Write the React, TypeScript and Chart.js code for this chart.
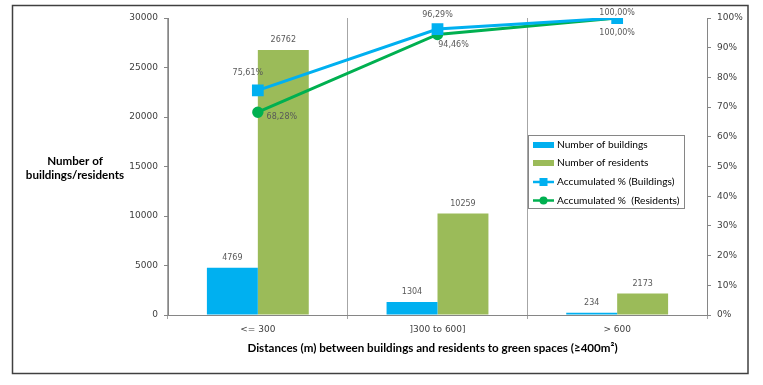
import React, { useEffect, useRef } from "react";
import { Chart, registerables } from "chart.js";

Chart.register(...registerables);

const categories = ["<= 300", "]300 to 600]", "> 600"];
const buildings = [4769, 1304, 234];
const residents = [26762, 10259, 2173];
const accBuildings = [75.61, 96.29, 100.0];
const accResidents = [68.28, 94.46, 100.0];
const leftTicks = [0, 5000, 10000, 15000, 20000, 25000, 30000];
const rightTicks = [0, 10, 20, 30, 40, 50, 60, 70, 80, 90, 100];

const BLUE = "#00B0F0";
const OLIVE = "#9BBB59";
const GREEN = "#00B050";
const AXIS = "#868686";
const TICK_FONT = "DejaVu Sans";
const TITLE_FONT = "Lato";

// label offsets (style, not data)
const lineLabelOffsets: Record<number, [number, number][]> = {
  2: [[-10, -18], [0, -14], [0, -5]],
  3: [[24, 5], [16, 10], [0, 15]],
};

const fmtPct = (v: number) => v.toFixed(2).replace(".", ",") + "%";

const decorPlugin = {
  id: "decor",
  beforeDraw(chart: any) {
    const ctx = chart.ctx;
    ctx.save();
    ctx.fillStyle = "#ffffff";
    ctx.fillRect(0, 0, chart.width, chart.height);
    ctx.restore();
  },
  afterDatasetsDraw(chart: any) {
    const ctx = chart.ctx;
    const ca = chart.chartArea;
    ctx.save();
    // data labels
    chart.data.datasets.forEach((ds: any, di: number) => {
      const meta = chart.getDatasetMeta(di);
      meta.data.forEach((el: any, i: number) => {
        const v = ds.data[i];
        ctx.font = `8px "${TICK_FONT}"`;
        ctx.fillStyle = "#595959";
        ctx.textAlign = "center";
        ctx.textBaseline = "middle";
        if (ds.type === "bar") {
          ctx.fillText(String(v), el.x, el.y - 10);
        } else {
          const off = lineLabelOffsets[di][i];
          ctx.fillText(fmtPct(v), el.x + off[0], el.y + off[1]);
        }
      });
    });

    // legend
    const lx = 528.5, ly = 135.5, lw = 156, lh = 73;
    ctx.fillStyle = "#ffffff";
    ctx.fillRect(lx, ly, lw, lh);
    ctx.strokeStyle = AXIS;
    ctx.lineWidth = 1;
    ctx.strokeRect(lx, ly, lw, lh);
    const items = [
      { text: "Number of buildings", kind: "bar", color: BLUE, y: 145 },
      { text: "Number of residents", kind: "bar", color: OLIVE, y: 163 },
      { text: "Accumulated % (Buildings)", kind: "rect", color: BLUE, y: 182 },
      { text: "Accumulated %  (Residents)", kind: "circle", color: GREEN, y: 200.5 },
    ];
    items.forEach((it) => {
      const sx = 533, ex = 554;
      if (it.kind === "bar") {
        ctx.fillStyle = it.color;
        ctx.fillRect(sx, it.y - 3, ex - sx, 6);
      } else {
        ctx.strokeStyle = it.color;
        ctx.lineWidth = 2.5;
        ctx.beginPath();
        ctx.moveTo(sx, it.y);
        ctx.lineTo(ex, it.y);
        ctx.stroke();
        ctx.fillStyle = it.color;
        const cx = (sx + ex) / 2;
        if (it.kind === "rect") {
          ctx.fillRect(cx - 4, it.y - 4, 8, 8);
        } else {
          ctx.beginPath();
          ctx.arc(cx, it.y, 4, 0, Math.PI * 2);
          ctx.fill();
        }
      }
      ctx.fillStyle = "#000000";
      ctx.font = `10.2px "${TITLE_FONT}"`;
      ctx.textAlign = "left";
      ctx.textBaseline = "middle";
      ctx.fillText(it.text, 557, it.y);
    });

    // axis titles
    ctx.fillStyle = "#000000";
    ctx.font = `bold 11.6px "${TITLE_FONT}"`;
    ctx.textAlign = "center";
    ctx.textBaseline = "middle";
    ctx.fillText("Number of", 75, 161);
    ctx.fillText("buildings/residents", 75, 175);
    ctx.fillText(
      "Distances (m) between buildings and residents to green spaces (\u2265400m\u00B2)",
      (ca.left + ca.right) / 2 - 5,
      348
    );

    // outer border
    ctx.strokeStyle = "#404040";
    ctx.lineWidth = 1.5;
    ctx.strokeRect(12.5, 5.5, 735.5, 368);
    ctx.restore();
  },
};

export default function App() {
  const ref = useRef<HTMLCanvasElement | null>(null);
  useEffect(() => {
    if (!ref.current) return;
    const chart = new Chart(ref.current, {
      type: "bar",
      data: {
        labels: categories,
        datasets: [
          {
            type: "bar",
            label: "Number of buildings",
            data: buildings,
            backgroundColor: BLUE,
            yAxisID: "y",
            order: 2,
            barPercentage: 1,
            categoryPercentage: 0.567,
          },
          {
            type: "bar",
            label: "Number of residents",
            data: residents,
            backgroundColor: OLIVE,
            yAxisID: "y",
            order: 2,
            barPercentage: 1,
            categoryPercentage: 0.567,
          },
          {
            type: "line",
            label: "Accumulated % (Buildings)",
            data: accBuildings,
            borderColor: BLUE,
            backgroundColor: BLUE,
            borderWidth: 3,
            pointStyle: "rect",
            pointRadius: 6.2,
            yAxisID: "y1",
            order: 0,
          },
          {
            type: "line",
            label: "Accumulated %  (Residents)",
            data: accResidents,
            borderColor: GREEN,
            backgroundColor: GREEN,
            borderWidth: 3,
            pointStyle: "circle",
            pointRadius: 4.2,
            yAxisID: "y1",
            order: 1,
          },
        ],
      } as any,
      options: {
        responsive: false,
        animation: false,
        devicePixelRatio: 1,
        layout: { padding: { top: 18, left: 0, right: 0, bottom: 0 } },
        plugins: {
          legend: { display: false },
          tooltip: { enabled: false },
        },
        scales: {
          x: {
            offset: true,
            grid: {
              offset: true,
              color: "#A6A6A6",
              tickLength: 4,
              drawOnChartArea: true,
            },
            border: { color: AXIS },
            ticks: {
              color: "#404040",
              font: { family: TICK_FONT, size: 9 },
              padding: 5,
              maxRotation: 0,
            },
            afterFit: (s: any) => {
              s.height = 70;
            },
          },
          y: {
            position: "left",
            min: 0,
            max: 30000,
            afterBuildTicks: (s: any) => {
              s.ticks = leftTicks.map((v) => ({ value: v }));
            },
            grid: { drawOnChartArea: false, color: AXIS, tickLength: 4 },
            border: { color: AXIS },
            ticks: {
              color: "#404040",
              font: { family: TICK_FONT, size: 9 },
              padding: 6,
              callback: (v: any) => String(v),
            },
            afterFit: (s: any) => {
              s.width = 168;
            },
          },
          y1: {
            position: "right",
            min: 0,
            max: 100,
            afterBuildTicks: (s: any) => {
              s.ticks = rightTicks.map((v) => ({ value: v }));
            },
            grid: { drawOnChartArea: false, color: AXIS, tickLength: 4 },
            border: { color: AXIS },
            ticks: {
              color: "#404040",
              font: { family: TICK_FONT, size: 9 },
              padding: 6,
              callback: (v: any) => v + "%",
            },
            afterFit: (s: any) => {
              s.width = 56;
            },
          },
        },
      } as any,
      plugins: [decorPlugin],
    });
    return () => chart.destroy();
  }, []);
  return (
    <div style={{ position: "absolute", left: 0, top: 0, width: 763, height: 385 }}>
      <canvas ref={ref} width={763} height={385} style={{ display: "block" }} />
    </div>
  );
}
